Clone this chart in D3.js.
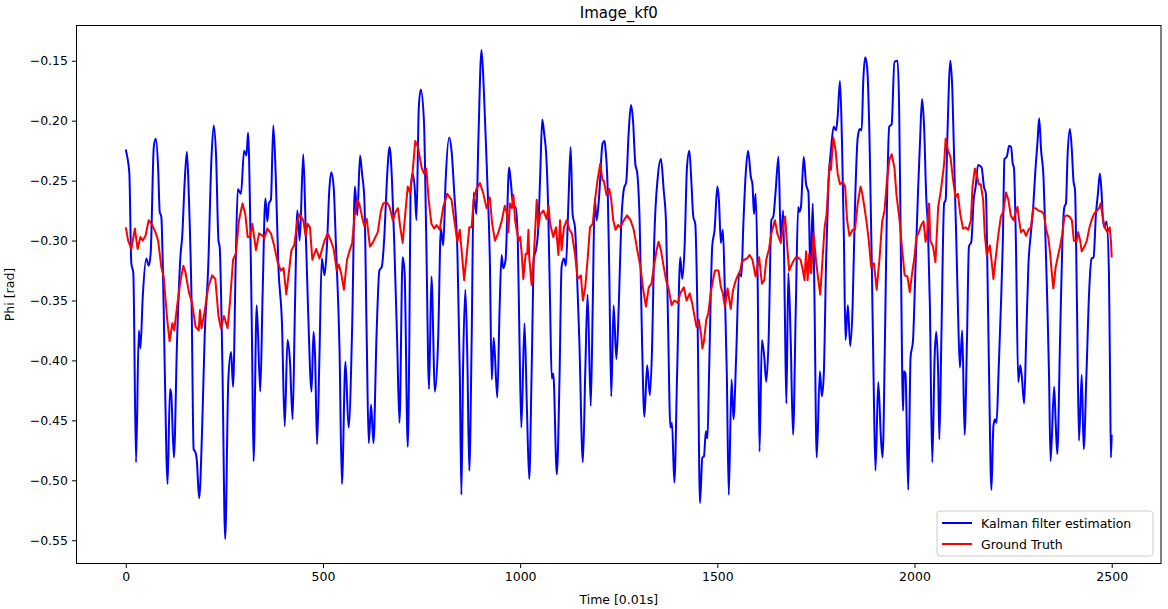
<!DOCTYPE html>
<html>
<head>
<meta charset="utf-8">
<script src="https://cdn.jsdelivr.net/npm/d3@7"></script>
<style>
  body { margin: 0; background: #fff; }
  svg text { font-family: "DejaVu Sans", sans-serif; fill: #000; }
</style>
</head>
<body>
<svg id="chart" width="1168" height="609"></svg>
<script>

//
// Data (time in 0.01 s, phi in rad)
//
var kalmanPts = [
  [0,-0.224],[3,-0.229],[9,-0.244],[14,-0.319],[19,-0.327],[26,-0.485],[33,-0.375],[37,-0.390],[43,-0.347],
  [52,-0.315],[58,-0.321],[63,-0.311],[71,-0.222],[76,-0.215],[82,-0.239],[86,-0.276],[90,-0.280],[96,-0.355],
  [103,-0.480],[106,-0.503],[112,-0.424],[115,-0.427],[122,-0.481],[130,-0.383],[139,-0.311],[143,-0.297],
  [149,-0.253],[155,-0.226],[160,-0.264],[167,-0.355],[172,-0.474],[177,-0.477],[180,-0.483],[186,-0.515],
  [194,-0.452],[200,-0.380],[209,-0.322],[217,-0.233],[223,-0.204],[229,-0.230],[235,-0.300],[238,-0.305],
  [245,-0.405],[252,-0.549],[260,-0.416],[267,-0.393],[272,-0.422],[279,-0.314],[284,-0.257],[292,-0.261],
  [300,-0.225],[306,-0.229],[310,-0.210],[315,-0.272],[320,-0.383],[324,-0.484],[332,-0.354],[341,-0.426],
  [347,-0.344],[354,-0.265],[359,-0.284],[363,-0.269],[368,-0.266],[374,-0.204],[380,-0.244],[387,-0.322],
  [396,-0.369],[403,-0.455],[410,-0.383],[416,-0.399],[423,-0.449],[429,-0.355],[435,-0.275],[441,-0.300],
  [450,-0.228],[456,-0.289],[462,-0.355],[471,-0.426],[476,-0.376],[480,-0.397],[485,-0.470],[491,-0.397],
  [497,-0.315],[504,-0.329],[510,-0.305],[516,-0.258],[521,-0.243],[527,-0.255],[533,-0.305],[542,-0.391],
  [548,-0.503],[557,-0.401],[565,-0.456],[574,-0.372],[581,-0.255],[587,-0.279],[594,-0.229],[599,-0.244],
  [605,-0.266],[611,-0.383],[616,-0.469],[622,-0.437],[628,-0.469],[636,-0.377],[643,-0.325],[649,-0.322],
  [656,-0.294],[662,-0.250],[669,-0.222],[675,-0.250],[681,-0.305],[688,-0.383],[694,-0.452],[702,-0.314],
  [707,-0.327],[715,-0.472],[719,-0.383],[722,-0.260],[727,-0.244],[733,-0.258],[737,-0.283],[743,-0.189],
  [748,-0.174],[756,-0.200],[762,-0.300],[769,-0.424],[775,-0.330],[784,-0.426],[792,-0.383],[799,-0.290],
  [805,-0.304],[811,-0.250],[820,-0.214],[826,-0.225],[833,-0.261],[841,-0.311],[847,-0.411],[851,-0.512],
  [855,-0.411],[861,-0.341],[866,-0.397],[871,-0.492],[877,-0.383],[882,-0.260],[889,-0.278],[894,-0.217],
  [902,-0.141],[908,-0.175],[916,-0.244],[923,-0.314],[928,-0.416],[933,-0.381],[942,-0.431],[948,-0.355],
  [953,-0.312],[957,-0.323],[963,-0.316],[972,-0.239],[976,-0.250],[983,-0.272],[989,-0.272],[994,-0.300],
  [998,-0.377],[1003,-0.456],[1011,-0.369],[1017,-0.438],[1023,-0.499],[1029,-0.411],[1035,-0.314],
  [1040,-0.308],[1046,-0.289],[1051,-0.244],[1056,-0.199],[1061,-0.211],[1066,-0.228],[1071,-0.272],
  [1076,-0.355],[1080,-0.415],[1084,-0.411],[1093,-0.495],[1100,-0.411],[1105,-0.322],[1111,-0.315],
  [1116,-0.321],[1122,-0.272],[1128,-0.222],[1133,-0.278],[1139,-0.289],[1145,-0.336],[1150,-0.383],
  [1159,-0.485],[1165,-0.411],[1171,-0.345],[1179,-0.438],[1184,-0.355],[1189,-0.265],[1194,-0.283],
  [1200,-0.264],[1209,-0.219],[1214,-0.217],[1216,-0.222],[1222,-0.258],[1226,-0.327],[1231,-0.430],
  [1237,-0.354],[1244,-0.399],[1250,-0.355],[1256,-0.289],[1263,-0.257],[1269,-0.251],[1275,-0.211],
  [1281,-0.187],[1286,-0.199],[1292,-0.236],[1297,-0.244],[1303,-0.284],[1309,-0.383],[1315,-0.447],
  [1322,-0.404],[1329,-0.429],[1335,-0.383],[1340,-0.300],[1349,-0.247],[1357,-0.232],[1364,-0.258],
  [1370,-0.286],[1375,-0.369],[1381,-0.456],[1385,-0.452],[1391,-0.502],[1398,-0.411],[1406,-0.314],
  [1411,-0.332],[1417,-0.305],[1423,-0.239],[1429,-0.225],[1434,-0.250],[1439,-0.280],[1444,-0.286],
  [1450,-0.369],[1456,-0.519],[1462,-0.481],[1466,-0.480],[1471,-0.459],[1475,-0.465],[1479,-0.411],
  [1487,-0.305],[1493,-0.291],[1500,-0.255],[1504,-0.266],[1509,-0.302],[1514,-0.291],[1519,-0.341],
  [1524,-0.411],[1529,-0.512],[1536,-0.416],[1541,-0.449],[1548,-0.394],[1555,-0.327],[1561,-0.330],
  [1566,-0.286],[1572,-0.244],[1578,-0.225],[1585,-0.247],[1589,-0.253],[1593,-0.278],[1597,-0.261],
  [1602,-0.327],[1607,-0.476],[1613,-0.383],[1619,-0.397],[1624,-0.418],[1630,-0.383],[1637,-0.283],
  [1642,-0.280],[1648,-0.258],[1655,-0.230],[1661,-0.300],[1667,-0.275],[1671,-0.355],[1675,-0.436],
  [1680,-0.327],[1686,-0.383],[1692,-0.462],[1699,-0.355],[1705,-0.272],[1708,-0.276],[1712,-0.272],
  [1719,-0.230],[1725,-0.253],[1731,-0.260],[1736,-0.327],[1742,-0.269],[1746,-0.341],[1752,-0.481],
  [1760,-0.409],[1765,-0.430],[1770,-0.411],[1776,-0.314],[1782,-0.250],[1788,-0.225],[1795,-0.205],
  [1801,-0.208],[1805,-0.197],[1811,-0.167],[1816,-0.217],[1821,-0.300],[1825,-0.383],[1831,-0.354],
  [1837,-0.388],[1843,-0.355],[1849,-0.272],[1856,-0.214],[1861,-0.207],[1866,-0.208],[1870,-0.167],
  [1875,-0.147],[1880,-0.156],[1886,-0.217],[1892,-0.327],[1896,-0.411],[1901,-0.492],[1908,-0.418],
  [1915,-0.466],[1919,-0.481],[1925,-0.383],[1930,-0.272],[1936,-0.205],[1942,-0.203],[1949,-0.151],
  [1957,-0.150],[1961,-0.189],[1965,-0.300],[1971,-0.442],[1973,-0.409],[1977,-0.411],[1984,-0.508],
  [1990,-0.397],[1996,-0.384],[2002,-0.327],[2009,-0.258],[2014,-0.217],[2019,-0.182],[2024,-0.203],
  [2030,-0.266],[2034,-0.289],[2039,-0.355],[2045,-0.485],[2051,-0.397],[2055,-0.376],[2060,-0.411],
  [2063,-0.466],[2068,-0.383],[2075,-0.269],[2079,-0.266],[2083,-0.217],[2091,-0.150],[2096,-0.175],
  [2102,-0.253],[2106,-0.300],[2110,-0.355],[2115,-0.406],[2121,-0.375],[2127,-0.462],[2133,-0.383],
  [2138,-0.305],[2144,-0.301],[2150,-0.266],[2155,-0.255],[2161,-0.237],[2170,-0.239],[2176,-0.255],
  [2181,-0.261],[2185,-0.327],[2189,-0.411],[2195,-0.508],[2200,-0.455],[2204,-0.449],[2208,-0.452],
  [2213,-0.411],[2219,-0.355],[2224,-0.300],[2228,-0.232],[2234,-0.230],[2240,-0.221],[2245,-0.222],
  [2249,-0.236],[2252,-0.239],[2257,-0.300],[2263,-0.418],[2268,-0.404],[2272,-0.413],[2278,-0.436],
  [2283,-0.383],[2289,-0.319],[2295,-0.294],[2301,-0.272],[2306,-0.244],[2312,-0.217],[2316,-0.198],
  [2321,-0.225],[2327,-0.247],[2331,-0.286],[2337,-0.355],[2341,-0.411],[2345,-0.484],[2354,-0.422],
  [2358,-0.452],[2362,-0.478],[2369,-0.383],[2375,-0.300],[2380,-0.272],[2384,-0.269],[2388,-0.230],
  [2394,-0.207],[2399,-0.225],[2403,-0.250],[2407,-0.258],[2412,-0.355],[2417,-0.467],[2424,-0.412],
  [2429,-0.474],[2436,-0.411],[2443,-0.341],[2449,-0.315],[2454,-0.314],[2460,-0.278],[2465,-0.261],
  [2470,-0.244],[2474,-0.258],[2478,-0.283],[2482,-0.289],[2487,-0.284],[2493,-0.327],[2496,-0.420],
  [2498,-0.481],[2500,-0.462]
];

var truthPts = [
  [0,-0.289],[6,-0.300],[14,-0.307],[23,-0.290],[30,-0.307],[37,-0.297],[43,-0.300],[50,-0.296],[58,-0.283],
  [67,-0.287],[75,-0.293],[82,-0.300],[90,-0.322],[96,-0.330],[105,-0.366],[111,-0.384],[118,-0.369],
  [123,-0.375],[130,-0.355],[139,-0.333],[146,-0.321],[151,-0.326],[160,-0.343],[168,-0.352],[177,-0.372],
  [185,-0.375],[188,-0.358],[192,-0.373],[199,-0.361],[209,-0.339],[219,-0.329],[227,-0.332],[235,-0.363],
  [241,-0.373],[249,-0.363],[258,-0.373],[264,-0.352],[272,-0.316],[279,-0.311],[287,-0.283],[296,-0.269],
  [303,-0.278],[309,-0.297],[315,-0.297],[321,-0.286],[330,-0.308],[338,-0.294],[347,-0.296],[351,-0.298],
  [359,-0.290],[368,-0.294],[376,-0.304],[385,-0.318],[393,-0.325],[400,-0.323],[407,-0.345],[414,-0.325],
  [420,-0.308],[427,-0.304],[435,-0.284],[441,-0.278],[450,-0.283],[456,-0.296],[461,-0.286],[467,-0.289],
  [473,-0.316],[483,-0.307],[491,-0.315],[504,-0.300],[512,-0.294],[521,-0.301],[527,-0.307],[535,-0.325],
  [540,-0.320],[546,-0.327],[553,-0.341],[561,-0.316],[567,-0.309],[574,-0.302],[580,-0.280],[587,-0.266],
  [592,-0.269],[601,-0.283],[605,-0.288],[611,-0.282],[619,-0.305],[626,-0.302],[633,-0.297],[639,-0.293],
  [647,-0.275],[653,-0.269],[662,-0.268],[669,-0.272],[677,-0.283],[684,-0.276],[690,-0.273],[696,-0.289],
  [702,-0.302],[708,-0.280],[715,-0.255],[721,-0.260],[727,-0.244],[734,-0.217],[741,-0.222],[750,-0.239],
  [756,-0.244],[762,-0.240],[768,-0.266],[775,-0.286],[782,-0.290],[788,-0.287],[796,-0.291],[805,-0.272],
  [815,-0.261],[826,-0.266],[833,-0.283],[841,-0.301],[847,-0.291],[853,-0.314],[858,-0.333],[866,-0.307],
  [871,-0.289],[877,-0.289],[882,-0.266],[889,-0.257],[898,-0.252],[906,-0.260],[915,-0.273],[923,-0.264],
  [929,-0.286],[936,-0.300],[944,-0.294],[953,-0.284],[961,-0.271],[967,-0.278],[970,-0.293],[974,-0.269],
  [979,-0.273],[983,-0.262],[987,-0.283],[991,-0.291],[996,-0.300],[1000,-0.297],[1004,-0.311],[1008,-0.332],
  [1014,-0.311],[1018,-0.311],[1021,-0.291],[1023,-0.314],[1029,-0.337],[1035,-0.311],[1042,-0.266],
  [1046,-0.289],[1051,-0.278],[1059,-0.275],[1067,-0.282],[1072,-0.271],[1076,-0.286],[1084,-0.297],
  [1091,-0.289],[1097,-0.312],[1101,-0.283],[1105,-0.308],[1111,-0.289],[1118,-0.283],[1125,-0.291],
  [1131,-0.294],[1139,-0.311],[1146,-0.332],[1154,-0.329],[1159,-0.350],[1165,-0.339],[1171,-0.316],
  [1177,-0.289],[1184,-0.286],[1190,-0.266],[1196,-0.250],[1203,-0.236],[1209,-0.250],[1212,-0.250],
  [1219,-0.262],[1226,-0.257],[1231,-0.266],[1236,-0.283],[1242,-0.291],[1248,-0.287],[1254,-0.289],
  [1263,-0.283],[1271,-0.279],[1280,-0.283],[1288,-0.291],[1297,-0.308],[1305,-0.322],[1312,-0.341],
  [1319,-0.355],[1326,-0.339],[1333,-0.336],[1339,-0.322],[1346,-0.308],[1351,-0.301],[1357,-0.308],
  [1364,-0.322],[1370,-0.333],[1377,-0.341],[1384,-0.354],[1391,-0.350],[1400,-0.352],[1406,-0.344],
  [1415,-0.339],[1422,-0.350],[1430,-0.344],[1436,-0.352],[1442,-0.363],[1447,-0.372],[1453,-0.366],
  [1459,-0.379],[1462,-0.390],[1466,-0.384],[1472,-0.366],[1477,-0.361],[1483,-0.344],[1489,-0.333],
  [1494,-0.325],[1503,-0.325],[1509,-0.339],[1514,-0.344],[1519,-0.355],[1526,-0.340],[1534,-0.357],
  [1540,-0.341],[1547,-0.333],[1551,-0.330],[1558,-0.325],[1562,-0.318],[1568,-0.316],[1575,-0.315],
  [1582,-0.312],[1589,-0.316],[1597,-0.330],[1606,-0.314],[1613,-0.336],[1619,-0.333],[1624,-0.316],
  [1631,-0.307],[1637,-0.294],[1646,-0.283],[1652,-0.294],[1661,-0.302],[1668,-0.286],[1672,-0.280],
  [1676,-0.300],[1682,-0.325],[1690,-0.319],[1699,-0.314],[1704,-0.314],[1711,-0.316],[1717,-0.325],
  [1721,-0.333],[1725,-0.309],[1729,-0.333],[1733,-0.311],[1738,-0.327],[1744,-0.294],[1750,-0.316],
  [1755,-0.330],[1761,-0.345],[1767,-0.314],[1772,-0.289],[1777,-0.278],[1782,-0.250],[1785,-0.236],
  [1788,-0.241],[1794,-0.214],[1800,-0.225],[1805,-0.244],[1811,-0.253],[1818,-0.251],[1824,-0.255],
  [1829,-0.283],[1835,-0.296],[1843,-0.291],[1849,-0.291],[1856,-0.269],[1863,-0.255],[1867,-0.260],
  [1873,-0.272],[1879,-0.286],[1884,-0.300],[1890,-0.322],[1897,-0.319],[1904,-0.341],[1911,-0.316],
  [1918,-0.284],[1924,-0.275],[1930,-0.250],[1936,-0.233],[1942,-0.228],[1949,-0.239],[1954,-0.261],
  [1962,-0.283],[1968,-0.305],[1975,-0.329],[1982,-0.330],[1988,-0.343],[1994,-0.327],[1999,-0.316],
  [2005,-0.297],[2011,-0.293],[2017,-0.287],[2023,-0.284],[2028,-0.301],[2032,-0.294],[2037,-0.269],
  [2040,-0.300],[2047,-0.305],[2053,-0.318],[2060,-0.272],[2066,-0.260],[2071,-0.247],[2075,-0.236],
  [2079,-0.215],[2085,-0.225],[2091,-0.230],[2098,-0.250],[2104,-0.264],[2110,-0.261],[2116,-0.278],
  [2123,-0.290],[2130,-0.289],[2136,-0.291],[2143,-0.283],[2147,-0.255],[2153,-0.240],[2157,-0.244],
  [2163,-0.253],[2168,-0.253],[2174,-0.266],[2178,-0.294],[2183,-0.312],[2191,-0.304],[2197,-0.322],
  [2200,-0.332],[2206,-0.314],[2213,-0.294],[2219,-0.280],[2225,-0.276],[2232,-0.260],[2238,-0.266],
  [2244,-0.279],[2251,-0.283],[2255,-0.278],[2261,-0.272],[2265,-0.283],[2270,-0.293],[2276,-0.291],
  [2283,-0.296],[2289,-0.291],[2295,-0.289],[2301,-0.273],[2307,-0.273],[2314,-0.275],[2323,-0.276],
  [2328,-0.278],[2334,-0.291],[2339,-0.297],[2344,-0.311],[2348,-0.327],[2352,-0.340],[2358,-0.322],
  [2363,-0.314],[2369,-0.305],[2375,-0.294],[2380,-0.280],[2386,-0.279],[2393,-0.280],[2399,-0.283],
  [2404,-0.300],[2411,-0.301],[2415,-0.293],[2420,-0.300],[2424,-0.309],[2431,-0.305],[2437,-0.300],
  [2443,-0.290],[2449,-0.283],[2455,-0.278],[2462,-0.275],[2468,-0.273],[2472,-0.269],[2476,-0.278],
  [2482,-0.289],[2489,-0.293],[2495,-0.289],[2498,-0.300],[2500,-0.314]
];

var xTicks = [0, 500, 1000, 1500, 2000, 2500];
var yTicks = [-0.55, -0.50, -0.45, -0.40, -0.35, -0.30, -0.25, -0.20, -0.15];
var seriesNames = ['Kalman filter estimation', 'Ground Truth'];
var seriesColors = ['#0000ff', '#ff0000'];

//
// Chart setup
//
var svg = d3.select('#chart');
var margin = {left: 76.5, top: 25.5, right: 7, bottom: 45.5};
var width = 1168 - margin.left - margin.right,
    height = 609 - margin.top - margin.bottom;

svg.append('rect').attr('width', 1168).attr('height', 609).attr('fill', '#fff');

var g = svg.append('g').attr('transform', 'translate(' + margin.left + ',' + margin.top + ')');

// matplotlib style 5% padding around the data
var allPts = kalmanPts.concat(truthPts);
var xExt = d3.extent(allPts, function (d) { return d[0]; });
var yExt = d3.extent(allPts, function (d) { return d[1]; });
var xPad = (xExt[1] - xExt[0]) * 0.05,
    yPad = (yExt[1] - yExt[0]) * 0.05;

var x = d3.scaleLinear().domain([xExt[0] - xPad, xExt[1] + xPad]).range([0, width]);
var y = d3.scaleLinear().domain([yExt[0] - yPad, yExt[1] + yPad]).range([height, 0]);

g.append('defs').append('clipPath').attr('id', 'clip')
  .append('rect').attr('width', width).attr('height', height);

var line = d3.line()
    .x(function (d) { return x(d[0]); })
    .y(function (d) { return y(d[1]); });

var plot = g.append('g').attr('clip-path', 'url(#clip)');

plot.append('path')
    .datum(kalmanPts)
    .attr('d', line.curve(d3.curveMonotoneX))
    .attr('fill', 'none')
    .attr('stroke', seriesColors[0])
    .attr('stroke-width', 2)
    .attr('stroke-linejoin', 'round');

plot.append('path')
    .datum(truthPts)
    .attr('d', line.curve(d3.curveLinear))
    .attr('fill', 'none')
    .attr('stroke', seriesColors[1])
    .attr('stroke-width', 2)
    .attr('stroke-linejoin', 'round');

// Axes
var xAxis = d3.axisBottom(x).tickValues(xTicks).tickSize(4.5).tickPadding(4).tickFormat(d3.format('d'));
var yAxis = d3.axisLeft(y).tickValues(yTicks).tickSize(4.5).tickPadding(4).tickFormat(d3.format('.2f'));

var gx = g.append('g').attr('transform', 'translate(0,' + height + ')').call(xAxis);
var gy = g.append('g').call(yAxis);

[gx, gy].forEach(function (a) {
    a.select('.domain').remove();
    a.selectAll('line').attr('stroke', '#000').attr('stroke-width', 1);
    a.selectAll('text').style('font-family', '"DejaVu Sans", sans-serif').style('font-size', '12.5px').attr('fill', '#000');
});

g.append('rect')
    .attr('width', width).attr('height', height)
    .attr('fill', 'none').attr('stroke', '#000').attr('stroke-width', 1);

// Labels
svg.append('text')
    .attr('x', margin.left + width / 2).attr('y', 18)
    .attr('text-anchor', 'middle')
    .style('font-size', '15px')
    .text('Image_kf0');

svg.append('text')
    .attr('x', margin.left + width / 2).attr('y', 604)
    .attr('text-anchor', 'middle')
    .style('font-size', '12.5px')
    .text('Time [0.01s]');

svg.append('text')
    .attr('transform', 'translate(14,' + (margin.top + height / 2) + ') rotate(-90)')
    .attr('text-anchor', 'middle')
    .style('font-size', '12.5px')
    .text('Phi [rad]');

// Legend
var legW = 216, legH = 45;
var leg = g.append('g')
    .attr('transform', 'translate(' + (width - legW - 8) + ',' + (height - legH - 7.5) + ')');

leg.append('rect')
    .attr('width', legW).attr('height', legH).attr('rx', 3)
    .attr('fill', '#fff').attr('fill-opacity', 0.8)
    .attr('stroke', '#cccccc').attr('stroke-width', 1);

leg.selectAll('g.item')
    .data(seriesNames)
    .enter()
    .append('g')
    .attr('class', 'item')
    .attr('transform', function (d, i) { return 'translate(0,' + (12 + i * 21) + ')'; })
    .each(function (d, i) {
        var item = d3.select(this);
        item.append('line')
            .attr('x1', 5).attr('x2', 35)
            .attr('stroke', seriesColors[i]).attr('stroke-width', 2);
        item.append('text')
            .attr('x', 44).attr('y', 4.5)
            .style('font-size', '12.5px')
            .text(d);
    });

</script>
</body>
</html>
